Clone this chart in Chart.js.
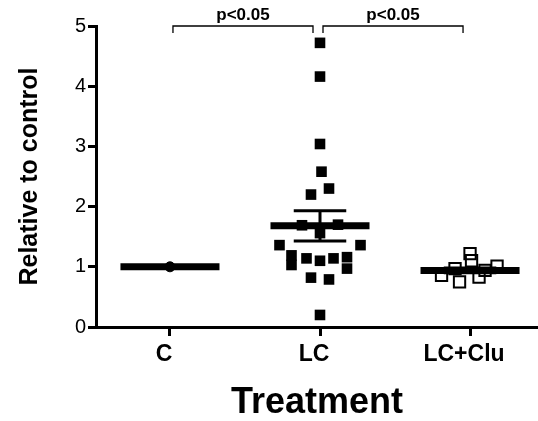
<!DOCTYPE html>
<html>
<head>
<meta charset="utf-8">
<script src="https://cdn.jsdelivr.net/npm/chart.js@4"></script>
<style>
  body { margin: 0; background: #fff; }
  #wrap { width: 538px; height: 421px; }
</style>
</head>
<body>
<div id="wrap"><canvas id="chart"></canvas></div>
<script>
// groups on the x axis
const categories = ["C", "LC", "LC+Clu"];

// individual values
const cValues = [1.0];
const lcValues = [4.72, 4.16, 3.04, 2.58, 2.30, 2.20, 1.69, 1.70, 1.56, 1.36, 1.36,
                  1.19, 1.03, 1.14, 1.10, 1.14, 1.16, 0.97, 0.82, 0.79, 0.20];
const lcJitter = [0, 0, 0, 0.01, 0.06, -0.06, -0.12, 0.12, 0, -0.27, 0.27,
                  -0.19, -0.19, -0.09, 0, 0.09, 0.18, 0.18, -0.06, 0.06, 0];
const lcCluValues = [1.22, 1.10, 1.01, 0.86, 0.75, 0.83, 0.97, 0.94];
const lcCluJitter = [0, 0.01, 0.18, -0.19, -0.07, 0.06, -0.1, 0.1];

// mean +/- SEM per group
const means = [1.0, 1.68, 0.94];
const sems = [0, 0.25, 0.04];

const yTicks = [0, 1, 2, 3, 4, 5];

// significance brackets: [from group, to group, label]
const brackets = [[0, 1, "p<0.05"], [1, 2, "p<0.05"]];

const meanHalf = 0.33;
const capHalf = 0.175;
const FONT = "'Liberation Sans', Arial, sans-serif";

const meanSets = means.map((m, i) => ({
  type: "line",
  data: [{ x: i - meanHalf, y: m }, { x: i + meanHalf, y: m }],
  borderColor: "#000",
  borderWidth: 7,
  borderCapStyle: "butt",
  pointRadius: 0,
  clip: false
}));

const errorBars = {
  id: "errorBars",
  afterDatasetsDraw(chart) {
    const { ctx, scales: { x, y } } = chart;
    ctx.save();
    ctx.strokeStyle = "#000";
    ctx.lineWidth = 3;
    means.forEach((m, i) => {
      if (!sems[i]) return;
      const cx = x.getPixelForValue(i);
      const top = y.getPixelForValue(m + sems[i]);
      const bot = y.getPixelForValue(m - sems[i]);
      ctx.beginPath();
      ctx.moveTo(cx, top); ctx.lineTo(cx, bot);
      ctx.moveTo(x.getPixelForValue(i - capHalf), top);
      ctx.lineTo(x.getPixelForValue(i + capHalf), top);
      ctx.moveTo(x.getPixelForValue(i - capHalf), bot);
      ctx.lineTo(x.getPixelForValue(i + capHalf), bot);
      ctx.stroke();
    });
    ctx.restore();
  }
};

const sigBrackets = {
  id: "sigBrackets",
  afterDraw(chart) {
    const { ctx, scales: { x, y } } = chart;
    ctx.save();
    ctx.strokeStyle = "#000";
    ctx.fillStyle = "#000";
    ctx.lineWidth = 1.3;
    const yy = y.getPixelForValue(5);
    brackets.forEach(([a, b, label]) => {
      const x1 = x.getPixelForValue(a) + 3;
      const x2 = x.getPixelForValue(b) - 7;
      ctx.beginPath();
      ctx.moveTo(x1, yy + 7); ctx.lineTo(x1, yy); ctx.lineTo(x2, yy); ctx.lineTo(x2, yy + 7);
      ctx.stroke();
      ctx.font = "bold 17px " + FONT;
      ctx.textAlign = "center";
      ctx.textBaseline = "alphabetic";
      ctx.fillText(label, (x1 + x2) / 2, yy - 6);
    });
    ctx.restore();
  }
};

new Chart(document.getElementById("chart"), {
  type: "scatter",
  data: {
    datasets: [
      ...meanSets,
      {
        data: cValues.map(v => ({ x: 0, y: v })),
        pointStyle: "circle",
        pointRadius: 5,
        backgroundColor: "#000",
        borderColor: "#000",
        clip: false
      },
      {
        data: lcValues.map((v, i) => ({ x: 1 + lcJitter[i], y: v })),
        pointStyle: "rect",
        pointRadius: 7.5,
        backgroundColor: "#000",
        borderColor: "#000",
        borderWidth: 0,
        clip: false
      },
      {
        data: lcCluValues.map((v, i) => ({ x: 2 + lcCluJitter[i], y: v })),
        pointStyle: "rect",
        pointRadius: 8,
        backgroundColor: "rgba(0,0,0,0)",
        borderColor: "#000",
        borderWidth: 2,
        clip: false
      }
    ]
  },
  options: {
    responsive: true,
    maintainAspectRatio: false,
    animation: false,
    layout: { autoPadding: false, padding: { top: 26, right: 0, left: 0, bottom: 0 } },
    plugins: { legend: { display: false }, tooltip: { enabled: false } },
    scales: {
      x: {
        type: "linear",
        min: -0.493,
        max: 2.453,
        afterBuildTicks: s => { s.ticks = categories.map((c, i) => ({ value: i })); },
        afterFit: s => { s.height = 94; s.paddingLeft = 0; s.paddingRight = 0; },
        border: { color: "#000", width: 3 },
        grid: { drawOnChartArea: false, color: "#000", lineWidth: 3, tickLength: 9 },
        ticks: {
          color: "#000",
          padding: 5,
          labelOffset: -6,
          maxRotation: 0,
          font: { family: FONT, size: 23, weight: "bold" },
          callback: v => categories[v]
        },
        title: {
          display: true,
          text: "Treatment",
          color: "#000",
          padding: { top: 0, bottom: 0 },
          font: { family: FONT, size: 36, weight: "bold", lineHeight: 1.0 }
        }
      },
      y: {
        min: 0,
        max: 5,
        afterBuildTicks: s => { s.ticks = yTicks.map(v => ({ value: v })); },
        afterFit: s => { s.width = 96; },
        border: { color: "#000", width: 3 },
        grid: { drawOnChartArea: false, color: "#000", lineWidth: 3, tickLength: 8 },
        ticks: {
          color: "#000",
          padding: 2,
          font: { family: FONT, size: 20 }
        },
        title: {
          display: true,
          text: "Relative to control",
          color: "#000",
          padding: { top: 15, bottom: 0 },
          font: { family: FONT, size: 25, weight: "bold" }
        }
      }
    }
  },
  plugins: [errorBars, sigBrackets]
});
</script>
</body>
</html>
